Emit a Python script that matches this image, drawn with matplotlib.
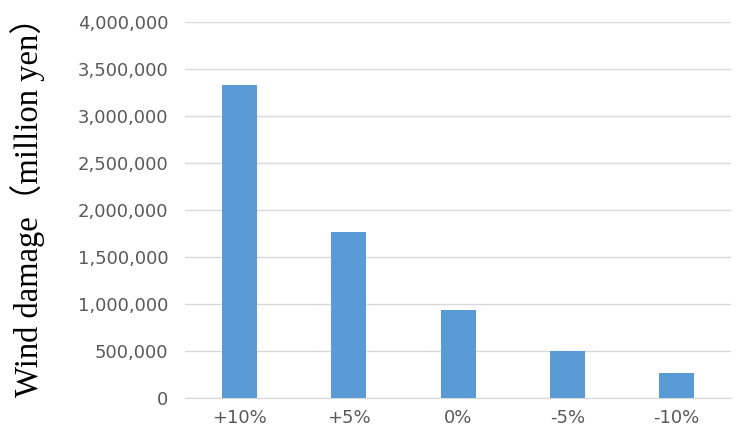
import matplotlib
matplotlib.use("Agg")
from matplotlib import pyplot as plt
from matplotlib.ticker import FuncFormatter

categories = ["+10%", "+5%", "0%", "-5%", "-10%"]
damage = [3332000, 1765000, 933000, 496000, 262000]
y_ticks = [0, 500000, 1000000, 1500000, 2000000, 2500000, 3000000, 3500000, 4000000]

fig = plt.figure(figsize=(7.53, 4.41), dpi=100)
ax = fig.add_axes([0.2457, 0.0986, 0.7253, 0.8504])

x = range(len(categories))
ax.bar(x, damage, width=0.32, color="#5B9BD5", zorder=3)

ax.set_xlim(-0.5, len(categories) - 0.5)
ax.set_ylim(0, 4000000)
ax.set_yticks(y_ticks)
ax.yaxis.set_major_formatter(FuncFormatter(lambda v, p: f"{int(v):,}"))
ax.set_xticks(list(x))
ax.set_xticklabels(categories)

ax.grid(axis="y", color="#d9d9d9", linewidth=1.0, zorder=0)
for s in ["top", "right", "left"]:
    ax.spines[s].set_visible(False)
ax.spines["bottom"].set_color("#d9d9d9")
ax.tick_params(axis="both", length=0, colors="#595959", labelsize=13)
ax.tick_params(axis="y", pad=12)
ax.tick_params(axis="x", pad=8)

ax.set_ylabel("Wind damage（million yen）", family=["Liberation Serif", "Noto Sans CJK JP"],
              fontsize=23.5, color="#000000", va="center")
ax.yaxis.set_label_coords(-0.288, 0.53)

fig.savefig("out.png", dpi=100)
